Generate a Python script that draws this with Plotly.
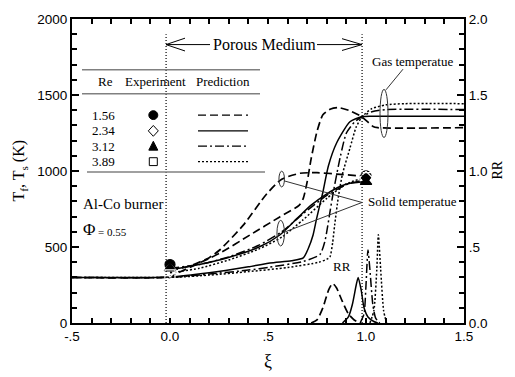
import plotly.graph_objects as go

# ---------------- data ----------------
re_labels = ["1.56", "2.34", "3.12", "3.89"]

# gas temperature predictions (K)
gas_xi_156 = [-0.5, 0.0, 0.05, 0.255, 0.408, 0.56, 0.66, 0.68, 0.70, 0.72, 0.75, 0.78, 0.82, 0.86, 0.92, 0.978, 1.036, 1.06, 1.5]
gas_T_156 = [300, 305, 335, 460, 579, 698, 775, 820, 930, 1080, 1260, 1370, 1408, 1417, 1395, 1357, 1293, 1285, 1285]
gas_xi_234 = [-0.5, 0.0, 0.2, 0.4, 0.51, 0.62, 0.68, 0.706, 0.73, 0.748, 0.765, 0.78, 0.808, 0.85, 0.918, 0.978, 1.03, 1.5]
gas_T_234 = [300, 302, 330, 370, 395, 410, 428, 492, 579, 687, 780, 860, 1033, 1184, 1324, 1357, 1360, 1360]
gas_xi_312 = [-0.5, 0.0, 0.2, 0.4, 0.51, 0.68, 0.765, 0.79, 0.805, 0.816, 0.833, 0.87, 0.90, 0.94, 0.978, 1.03, 1.1, 1.5]
gas_T_312 = [300, 300, 322, 348, 368, 405, 450, 536, 640, 730, 860, 1100, 1250, 1320, 1357, 1390, 1404, 1404]
gas_xi_389 = [-0.5, 0.0, 0.2, 0.4, 0.6, 0.76, 0.80, 0.816, 0.83, 0.84, 0.859, 0.88, 0.918, 0.95, 0.98, 1.03, 1.1, 1.2, 1.5]
gas_T_389 = [300, 300, 315, 338, 365, 400, 420, 435, 530, 644, 830, 980, 1150, 1290, 1357, 1410, 1435, 1443, 1443]

# solid temperature predictions (K)
sol_xi_156 = [0.0, 0.1, 0.2, 0.255, 0.374, 0.493, 0.57, 0.663, 0.75, 0.85, 0.95, 1.0]
sol_T_156 = [345, 375, 430, 482, 644, 849, 946, 985, 989, 980, 970, 966]
sol_xi_234 = [0.0, 0.15, 0.29, 0.46, 0.56, 0.65, 0.72, 0.8, 0.87, 0.93, 1.0]
sol_T_234 = [350, 385, 428, 503, 579, 690, 775, 850, 900, 922, 930]
sol_xi_312 = [0.0, 0.15, 0.3, 0.45, 0.57, 0.68, 0.8, 0.9, 1.0]
sol_T_312 = [360, 385, 435, 510, 600, 720, 840, 910, 945]
sol_xi_389 = [0.0, 0.15, 0.3, 0.45, 0.57, 0.68, 0.8, 0.9, 1.0]
sol_T_389 = [330, 360, 415, 485, 565, 680, 820, 915, 960]

# reaction rate RR
rr_xi_156 = [0.72, 0.75, 0.78, 0.81, 0.83, 0.85, 0.88, 0.91, 0.94, 0.97]
rr_156 = [0.0, 0.02, 0.10, 0.22, 0.26, 0.23, 0.14, 0.06, 0.02, 0.0]
rr_xi_234 = [0.88, 0.91, 0.93, 0.95, 0.96, 0.975, 0.99, 1.01, 1.04, 1.06]
rr_234 = [0.0, 0.04, 0.12, 0.25, 0.30, 0.22, 0.10, 0.04, 0.01, 0.0]
rr_xi_312 = [0.97, 0.99, 1.0, 1.01, 1.02, 1.035, 1.05, 1.07]
rr_312 = [0.0, 0.06, 0.25, 0.48, 0.35, 0.12, 0.03, 0.0]
rr_xi_389 = [1.02, 1.04, 1.055, 1.063, 1.075, 1.09, 1.105]
rr_389 = [0.0, 0.08, 0.35, 0.58, 0.35, 0.08, 0.0]

# experiments (solid temperature)
exp_xi = [0.0, 1.0]
exp_156 = [385, 968]
exp_234 = [345, 955]
exp_312 = [360, 928]
exp_389 = [316, 1022]

porous_bounds = [-0.02, 0.98]

x_tickvals = [-0.5, 0.0, 0.5, 1.0, 1.5]
x_ticktext = ["-.5", "0.0", ".5", "1.0", "1.5"]
y_tickvals = [0, 500, 1000, 1500, 2000]
y_ticktext = ["0", "500", "1000", "1500", "2000"]
y2_tickvals = [0, 0.5, 1.0, 1.5, 2.0]
y2_ticktext = ["0.0", ".5", "1.0", "1.5", "2.0"]

# ---------------- styles ----------------
dashes = ["8px,4px", "solid", "9px,3px,2px,3px", "2px,2px"]
widths = [1.7, 1.5, 1.5, 1.5]
symbols = ["circle", "diamond-open", "triangle-up", "square-open"]
SERIF = "Liberation Serif"
SANS = "Liberation Sans"

L, R, T, B = 72, 51, 14, 54
W, H = 515, 377
PW, PH = W - L - R, H - T - B


def PX(px):
    return (px - L) / PW


def PY(py):
    return (T + PH - py) / PH


fig = go.Figure()

gas = [(gas_xi_156, gas_T_156), (gas_xi_234, gas_T_234), (gas_xi_312, gas_T_312), (gas_xi_389, gas_T_389)]
sol = [(sol_xi_156, sol_T_156), (sol_xi_234, sol_T_234), (sol_xi_312, sol_T_312), (sol_xi_389, sol_T_389)]
rr = [(rr_xi_156, rr_156), (rr_xi_234, rr_234), (rr_xi_312, rr_312), (rr_xi_389, rr_389)]
exps = [exp_156, exp_234, exp_312, exp_389]

for i in range(4):
    ln = dict(color="black", width=widths[i], dash=dashes[i], shape="spline", smoothing=0.6)
    fig.add_trace(go.Scatter(x=gas[i][0], y=gas[i][1], mode="lines", line=ln, yaxis="y"))
    fig.add_trace(go.Scatter(x=sol[i][0], y=sol[i][1], mode="lines", line=ln, yaxis="y"))
    fig.add_trace(go.Scatter(x=rr[i][0], y=rr[i][1], mode="lines", line=ln, yaxis="y2"))

for i in range(4):
    fig.add_trace(go.Scatter(x=exp_xi, y=exps[i], mode="markers", yaxis="y",
                             marker=dict(symbol=symbols[i], size=10,
                                         color="black" if "open" not in symbols[i] else "white",
                                         line=dict(color="black", width=1.2))))

shapes = []
for b in porous_bounds:
    shapes.append(dict(type="line", xref="x", yref="y", x0=b, x1=b, y0=0, y1=1900,
                       line=dict(color="black", width=1.2, dash="1px,2px")))


def pline(x0, y0, x1, y1, color="black", width=1.0, dash="solid"):
    shapes.append(dict(type="line", xref="paper", yref="paper", x0=PX(x0), y0=PY(y0), x1=PX(x1), y1=PY(y1),
                       line=dict(color=color, width=width, dash=dash)))


def pellipse(cx, cy, w, h, color="#333", width=1.0):
    shapes.append(dict(type="circle", xref="paper", yref="paper", x0=PX(cx - w / 2), x1=PX(cx + w / 2),
                       y0=PY(cy + h / 2), y1=PY(cy - h / 2), line=dict(color=color, width=width)))


# Porous medium arrows
pline(166, 40, 210, 40)
pline(166, 40, 185, 33.5)
pline(166, 40, 185, 46.5)
pline(317, 40, 362, 40)
pline(362, 40, 342, 34)
pline(362, 40, 342, 46)

# ellipses and leader lines
pellipse(384, 110, 8, 49)
pline(386, 86, 403, 65, color="#333")
pellipse(281.7, 176.7, 5.5, 16)
pellipse(280.7, 231.7, 7.5, 26)
pline(284, 178.5, 362, 200.5, color="#333")
pline(283.5, 231, 362, 200.5, color="#333")

# legend table
pline(82, 65.7, 260, 65.7, color="#808080", width=1.5)
pline(82, 90, 260, 90, color="#808080", width=1.5)
pline(87, 169.5, 265, 169.5, color="#808080", width=1.5)
row_y = [111.7, 127.7, 143.3, 159.0]
mx = 153.3
for i in range(4):
    pline(198, row_y[i], 248, row_y[i], width=1.3, dash=dashes[i])
# legend markers
y0 = row_y[0]
shapes.append(dict(type="circle", xref="paper", yref="paper", x0=PX(mx - 4.5), x1=PX(mx + 4.5),
                   y0=PY(y0 + 4.5), y1=PY(y0 - 4.5), fillcolor="black", line=dict(color="black", width=1)))
y1 = row_y[1]
shapes.append(dict(type="path", xref="paper", yref="paper",
                   path="M %f,%f L %f,%f L %f,%f L %f,%f Z" % (PX(mx), PY(y1 - 5.5), PX(mx + 5), PY(y1),
                                                            PX(mx), PY(y1 + 5.5), PX(mx - 5), PY(y1)),
                   line=dict(color="black", width=1), fillcolor="white"))
y2 = row_y[2]
shapes.append(dict(type="path", xref="paper", yref="paper",
                   path="M %f,%f L %f,%f L %f,%f Z" % (PX(mx), PY(y2 - 5), PX(mx + 4.5), PY(y2 + 4),
                                                      PX(mx - 4.5), PY(y2 + 4)),
                   line=dict(color="black", width=1), fillcolor="black"))
y3 = row_y[3]
shapes.append(dict(type="rect", xref="paper", yref="paper", x0=PX(mx - 4), x1=PX(mx + 4),
                   y0=PY(y3 + 4), y1=PY(y3 - 4), line=dict(color="black", width=1), fillcolor="white"))

annotations = []


def ptext(x, y, text, size=13, family=SERIF, xanchor="center", angle=0):
    annotations.append(dict(xref="paper", yref="paper", x=PX(x), y=PY(y), text=text, showarrow=False,
                            xanchor=xanchor, yanchor="middle", textangle=angle,
                            font=dict(family=family, size=size, color="black")))


ptext(264, 40, "Porous Medium", size=16)
ptext(412.5, 57, "Gas temperatue", size=13)
ptext(412, 200, "Solid temperatue", size=13)
ptext(342, 266, "RR", size=13)
ptext(122.5, 202, "Al-Co burner", size=15)
ptext(81, 228, "Φ", size=17, xanchor="left")
ptext(96, 230, "= 0.55", size=11, xanchor="left")
ptext(105, 78, "Re", size=13)
ptext(155, 78, "Experiment", size=13)
ptext(222.5, 78, "Prediction", size=13)
for i in range(4):
    ptext(103.3, row_y[i], re_labels[i], size=13)

# axis titles
ptext(20, 168, "T<sub>f</sub>, T<sub>s</sub> (K)", size=16, angle=-90)
ptext(498, 168, "RR", size=14, angle=-90)
ptext(268, 362, "ξ", size=18)

axis_common = dict(showgrid=False, zeroline=False, showline=True, linecolor="black", linewidth=2,
                   ticks="inside", tickcolor="black", tickwidth=1.5,
                   tickfont=dict(family=SANS, size=13.5, color="black"))

fig.update_layout(
    width=W, height=H,
    margin=dict(l=L, r=R, t=T, b=B, pad=0),
    paper_bgcolor="white", plot_bgcolor="white",
    showlegend=False,
    xaxis=dict(range=[-0.5, 1.5], tickvals=x_tickvals, ticktext=x_ticktext, ticklen=5, mirror="ticks",
               minor=dict(dtick=0.1, tick0=-0.5, ticks="inside", ticklen=5, tickcolor="black", tickwidth=1.5),
               **axis_common),
    yaxis=dict(range=[0, 2000], tickvals=y_tickvals, ticktext=y_ticktext, ticklen=7,
               minor=dict(dtick=100, tick0=0, ticks="inside", ticklen=5, tickcolor="black", tickwidth=1.5),
               **axis_common),
    yaxis2=dict(range=[0, 2.0], tickvals=y2_tickvals, ticktext=y2_ticktext, ticklen=7, overlaying="y", side="right",
                minor=dict(dtick=0.1, tick0=0, ticks="inside", ticklen=5, tickcolor="black", tickwidth=1.5),
                **axis_common),
    shapes=shapes,
    annotations=annotations,
)

fig.write_html("out.html")
